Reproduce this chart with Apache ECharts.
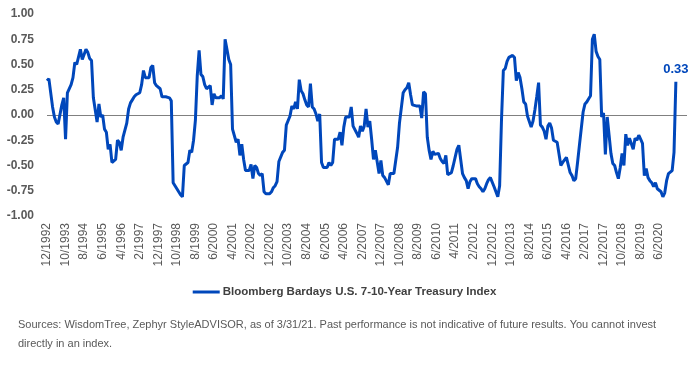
<!DOCTYPE html>
<html>
<head>
<meta charset="utf-8">
<script src="https://cdn.jsdelivr.net/npm/echarts@6/dist/echarts.min.js"></script>
<style>
  html, body { margin: 0; padding: 0; background: #fff; }
  #chart { width: 689px; height: 366px; }
</style>
</head>
<body>
<div id="chart"></div>
<script>
// monthly values, 12/1992 .. 3/2021
const values = [
  0.34, 0.36, 0.37, 0.08, -0.02, -0.07, -0.09, -0.08, 0.10, 0.17,
  -0.24, 0.22, 0.22, 0.30, 0.37, 0.52, 0.50, 0.49, 0.65, 0.55,
  0.60, 0.65, 0.62, 0.56, 0.54, 0.17, 0.16, -0.07, 0.11, -0.02,
  0.00, -0.14, -0.17, -0.34, -0.29, -0.47, -0.47, -0.44, -0.25, -0.27,
  -0.35, -0.22, -0.15, -0.08, 0.06, 0.12, 0.15, 0.18, 0.20, 0.19,
  0.22, 0.30, 0.44, 0.37, 0.37, 0.37, 0.47, 0.49, 0.32, 0.29,
  0.28, 0.26, 0.18, 0.17, 0.18, 0.17, 0.17, 0.14, -0.67, -0.68,
  -0.73, -0.76, -0.79, -0.81, -0.50, -0.49, -0.47, -0.35, -0.37, -0.25,
  -0.05, 0.39, 0.64, 0.40, 0.38, 0.30, 0.26, 0.26, 0.29, 0.10,
  0.21, 0.17, 0.18, 0.17, 0.19, 0.16, 0.75, 0.65, 0.55, 0.50,
  -0.14, -0.14, -0.27, -0.24, -0.40, -0.29, -0.44, -0.55, -0.55, -0.55,
  -0.49, -0.63, -0.50, -0.52, -0.58, -0.60, -0.58, -0.76, -0.78, -0.78,
  -0.78, -0.76, -0.72, -0.70, -0.66, -0.46, -0.46, -0.37, -0.35, -0.10,
  -0.09, -0.01, 0.09, 0.06, 0.13, 0.06, 0.35, 0.24, 0.21, 0.15,
  0.10, 0.08, 0.31, 0.08, 0.06, 0.01, -0.06, 0.01, -0.47, -0.52,
  -0.52, -0.52, -0.47, -0.50, -0.47, -0.24, -0.23, -0.24, -0.17, -0.30,
  -0.12, -0.02, -0.02, -0.02, 0.08, -0.11, -0.12, -0.18, -0.22, -0.11,
  -0.16, -0.11, 0.06, -0.12, -0.06, -0.24, -0.44, -0.35, -0.34, -0.58,
  -0.45, -0.60, -0.62, -0.63, -0.69, -0.58, -0.58, -0.58, -0.58, -0.32,
  -0.08, -0.08, 0.22, 0.25, 0.27, 0.32, 0.20, 0.10, 0.09, 0.09,
  0.09, 0.09, -0.03, 0.23, 0.21, -0.22, -0.35, -0.44, -0.36, -0.39,
  -0.40, -0.38, -0.43, -0.46, -0.48, -0.40, -0.59, -0.58, -0.57, -0.50,
  -0.42, -0.34, -0.30, -0.44, -0.58, -0.62, -0.65, -0.73, -0.66, -0.63,
  -0.64, -0.63, -0.68, -0.71, -0.73, -0.76, -0.73, -0.68, -0.64, -0.62,
  -0.62, -0.71, -0.76, -0.81, -0.70, -0.05, 0.44, 0.46, 0.53, 0.57,
  0.58, 0.59, 0.57, 0.34, 0.42, 0.37, 0.26, 0.13, 0.11, -0.01,
  -0.01, -0.12, -0.06, 0.05, 0.18, 0.32, -0.10, -0.12, -0.16, -0.24,
  -0.11, -0.08, -0.13, -0.25, -0.26, -0.27, -0.28, -0.50, -0.47, -0.46,
  -0.42, -0.42, -0.57, -0.60, -0.65, -0.63, -0.47, -0.30, -0.29, 0.03,
  0.11, 0.13, 0.16, 0.19, 0.75, 0.80, 0.63, 0.58, 0.55, -0.02,
  0.02, -0.39, -0.02, -0.20, -0.38, -0.48, -0.50, -0.57, -0.63, -0.52,
  -0.38, -0.50, -0.19, -0.30, -0.23, -0.24, -0.34, -0.23, -0.25, -0.20,
  -0.24, -0.28, -0.60, -0.53, -0.62, -0.65, -0.67, -0.71, -0.67, -0.73,
  -0.73, -0.76, -0.81, -0.77, -0.65, -0.58, -0.57, -0.55, -0.37, 0.33
];

// month labels M/YYYY starting 12/1992, plus a few empty slots after the last month
const months = [];
for (let i = 0; i < values.length; i++) {
  const m = (11 + i) % 12 + 1;
  const y = 1992 + Math.floor((11 + i) / 12);
  months.push(m + '/' + y);
}
const padSlots = ['', '', '', '', '', ''];
const categories = months.concat(padSlots);

const seriesName = 'Bloomberg Bardays U.S. 7-10-Year Treasury Index';
const footnote = 'Sources: WisdomTree, Zephyr StyleADVISOR, as of 3/31/21. Past performance is not indicative of future results. You cannot invest\ndirectly in an index.';

const blue = '#0047bb';
const gray = '#595959';
const font = 'Arial, "Liberation Sans", sans-serif';

const chart = echarts.init(document.getElementById('chart'));
const last = values.length - 1;

chart.setOption({
  animation: false,
  backgroundColor: '#fff',
  title: {
    text: footnote,
    left: 13,
    top: 310,
    textStyle: { fontFamily: font, fontSize: 11, fontWeight: 'normal', color: gray, lineHeight: 19 }
  },
  legend: {
    data: [seriesName],
    left: 'center',
    top: 281,
    icon: 'rect',
    itemWidth: 27,
    itemHeight: 3,
    itemGap: 4,
    textStyle: { fontFamily: font, fontSize: 11.5, fontWeight: 'bold', color: '#404040', padding: [0, 0, 0, -2] }
  },
  grid: { left: 47, right: 2, top: 14, bottom: 150 },
  xAxis: {
    type: 'category',
    data: categories,
    boundaryGap: false,
    axisLine: { show: false },
    axisTick: { show: false },
    axisLabel: {
      rotate: 90,
      margin: 7,
      color: gray,
      fontSize: 12,
      fontFamily: font,
      interval: (i) => i % 10 === 0 && i < values.length
    },
    splitLine: { show: false }
  },
  yAxis: {
    type: 'value',
    min: -1,
    max: 1,
    interval: 0.25,
    axisLine: { show: false },
    axisTick: { show: false },
    splitLine: { show: false },
    axisLabel: {
      margin: 13,
      color: gray,
      fontSize: 12,
      fontWeight: 'bold',
      fontFamily: font,
      formatter: (v) => v.toFixed(2)
    }
  },
  series: [{
    name: seriesName,
    type: 'line',
    data: values,
    showSymbol: false,
    color: blue,
    lineStyle: { color: blue, width: 3 },
    z: 5,
    markLine: {
      silent: true,
      symbol: ['none', 'none'],
      label: { show: false },
      lineStyle: { color: '#808080', width: 1, type: 'solid' },
      data: [{ yAxis: 0 }],
      z: 1
    },
    markPoint: {
      symbol: 'circle',
      symbolSize: 0,
      label: {
        show: true,
        position: 'top',
        distance: 6,
        color: blue,
        fontSize: 13,
        fontWeight: 'bold',
        fontFamily: font,
        formatter: (p) => p.value.toFixed(2)
      },
      data: [{ coord: [last, values[last]], value: values[last] }]
    }
  }]
});
</script>
</body>
</html>
